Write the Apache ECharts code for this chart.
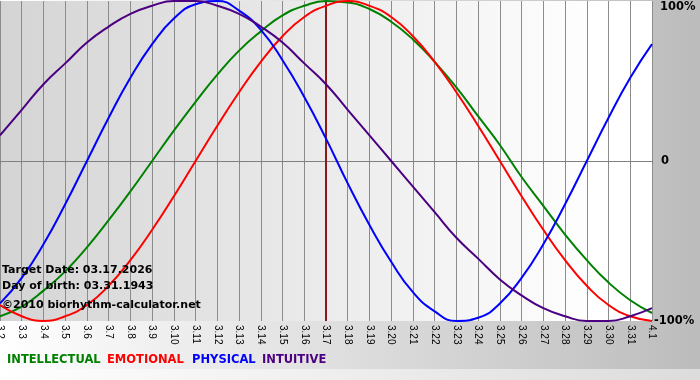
<!DOCTYPE html>
<html>
<head>
<meta charset="utf-8">
<script src="https://cdn.jsdelivr.net/npm/echarts@6/dist/echarts.min.js"></script>
<style>html,body{margin:0;padding:0;}#c{width:700px;height:380px;}</style>
</head>
<body>
<div id="c"></div>
<script>
var days = ['3.2','3.3','3.4','3.5','3.6','3.7','3.8','3.9','3.10','3.11','3.12','3.13','3.14','3.15','3.16','3.17','3.18','3.19','3.20','3.21','3.22','3.23','3.24','3.25','3.26','3.27','3.28','3.29','3.30','3.31','4.1'];
var intellectual = [-97,-91,-81,-69,-54,-37,-19,0,19,37,54,69,81,91,97,100,99,95,87,76,62,46,28,10,-10,-28,-46,-62,-76,-87,-95];
var emotional = [-90,-97,-100,-97,-90,-78,-62,-43,-22,0,22,43,62,78,90,97,100,97,90,78,62,43,22,0,-22,-43,-62,-78,-90,-97,-100];
var physical = [-89,-73,-52,-27,0,27,52,73,89,98,100,94,82,63,40,14,-14,-40,-63,-82,-94,-100,-98,-89,-73,-52,-27,0,27,52,73];
var intuitive = [16,32,48,61,74,84,92,97,100,100,97,92,84,74,61,48,32,16,0,-16,-32,-48,-61,-74,-84,-92,-97,-100,-100,-97,-92];
var seriesNames = ['INTELLECTUAL','EMOTIONAL','PHYSICAL','INTUITIVE'];
var yTickLabels = {'-100':'-100%','0':'0','100':'100%'};
var targetDay = '3.17';
var infoLines = ['Target Date: 03.17.2026','Day of birth: 03.31.1943','\u00A92010 biorhythm-calculator.net'];

var colors = ['#008000','#ff0000','#0000ff','#4b0082'];
var legendX = [7,107,192,262];
var infoY = [265,281,300];
var dataSets = [intellectual, emotional, physical, intuitive];

var chart = echarts.init(document.getElementById('c'));
var graphics = [
  {type:'rect', left:0, top:369, shape:{width:700,height:11}, z:-1,
   style:{fill:new echarts.graphic.LinearGradient(0,0,1,0,[{offset:0,color:'#ffffff'},{offset:1,color:'#dcdcdc'}])}}
];
seriesNames.forEach(function(n,i){
  graphics.push({type:'text', left:legendX[i], top:354, z:10,
    style:{text:n, fill:colors[i], font:'bold 11.5px "DejaVu Sans"'}});
});
infoLines.forEach(function(t,i){
  graphics.push({type:'text', left:2, top:infoY[i], z:10,
    style:{text:t, fill:'#000', font:'bold 11px "DejaVu Sans"'}});
});

var series = seriesNames.map(function(n,i){
  return {
    name:n, type:'line', data:dataSets[i], smooth:true, symbol:'none',
    lineStyle:{color:colors[i], width:2}, itemStyle:{color:colors[i]}
  };
});
series[0].markLine = {
  silent:true, symbol:'none', label:{show:false}, z:1,
  lineStyle:{color:'#8b1a1a', width:2, type:'solid'},
  data:[{xAxis:targetDay}]
};

chart.setOption({
  backgroundColor: new echarts.graphic.LinearGradient(0,0,1,0,[{offset:0,color:'#ffffff'},{offset:0.85,color:'#c6c6c6'},{offset:1,color:'#bcbcbc'}]),
  animation:false,
  grid:{left:0, right:48, top:1, bottom:59, show:true, borderWidth:0, containLabel:false, outerBoundsMode:'none',
    backgroundColor: new echarts.graphic.LinearGradient(0,0,1,0,[{offset:0,color:'#d4d4d4'},{offset:0.92,color:'#ffffff'},{offset:1,color:'#ffffff'}])},
  xAxis:{
    type:'category', data:days, boundaryGap:false,
    axisLine:{show:true, lineStyle:{color:'#808080', width:1}},
    axisTick:{show:true, length:3, interval:0, lineStyle:{color:'#808080'}},
    splitLine:{show:true, interval:0, lineStyle:{color:'#8c8c8c', width:1}},
    axisLabel:{interval:0, rotate:-90, margin:4, color:'#000', fontSize:10, fontFamily:'"Liberation Sans"'}
  },
  yAxis:{
    type:'value', min:-100, max:100, interval:100, position:'right',
    axisLine:{show:false}, axisTick:{show:false},
    splitLine:{show:true, lineStyle:{color:['rgba(0,0,0,0)','#8c8c8c','rgba(0,0,0,0)'], width:1}},
    axisLabel:{
      margin:2, align:'left',
      formatter:function(v){
        var t = yTickLabels[String(v)];
        if (v > 0) return '{t|' + t + '}';
        if (v < 0) return '{n|' + t + '}';
        return '{z|' + t + '}';
      },
      rich:{
        t:{fontSize:11.5, fontWeight:'bold', color:'#000', fontFamily:'"DejaVu Sans"', padding:[12,0,0,6]},
        z:{fontSize:11.5, fontWeight:'bold', color:'#000', fontFamily:'"DejaVu Sans"', padding:[0,0,0,7]},
        n:{fontSize:11.5, fontWeight:'bold', color:'#000', fontFamily:'"DejaVu Sans"', padding:[0,0,0,0]}
      }
    }
  },
  graphic:graphics,
  series:series
});
</script>
</body>
</html>
